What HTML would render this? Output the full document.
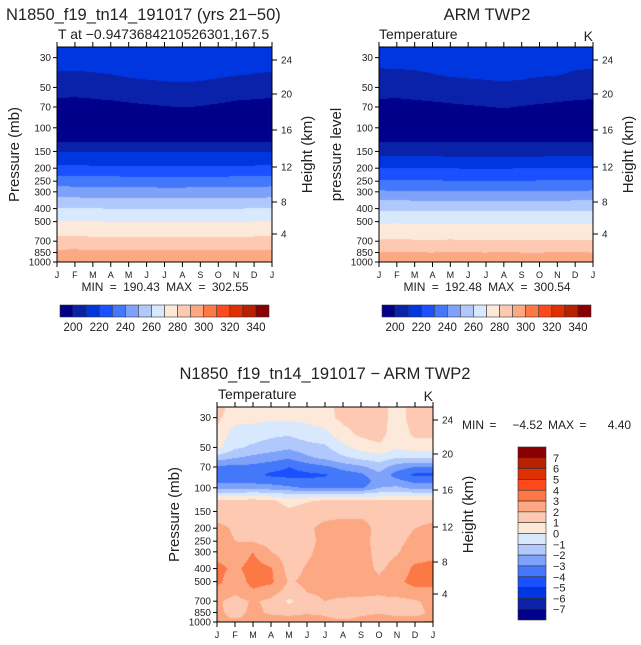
<!DOCTYPE html>
<html><head><meta charset="utf-8">
<style>
body{margin:0;background:#fff;width:641px;height:645px;overflow:hidden;position:relative;font-family:"Liberation Sans",sans-serif}
canvas{position:absolute}
svg{position:absolute;left:0;top:0}
text{font-family:"Liberation Sans",sans-serif;fill:#222}
</style></head><body>
<canvas id="c1" width="215" height="215" style="left:57px;top:47px"></canvas>
<canvas id="c2" width="214" height="215" style="left:379px;top:47px"></canvas>
<canvas id="c3" width="216" height="215" style="left:217px;top:407px"></canvas>
<svg id="s" width="641" height="645"></svg>
<script>
const months=['J','F','M','A','M','J','J','A','S','O','N','D','J'];
const pTicks=[30,50,70,100,150,200,250,300,400,500,700,850,1000];
const hTicks=[24,20,16,12,8,4];
const hTickOffsets=[13,47,83,120,155,187];
const palette=['#00008a','#0a22aa','#0036e0','#1a50ff','#4478fa','#7ea2fa','#b0c8fc','#d8e8fd','#fde9d9','#fdc9b2','#fca882','#fc7844','#fc4a1c','#e03000','#b82000','#8a0000'];
const tempLevels=[200,210,220,230,240,250,260,270,280,290,300,310,320,330,340];
const diffLevels=[-7,-6,-5,-4,-3,-2,-1,0,1,2,3,4,5,6,7];
const tempTickLabels=[200,220,240,260,280,300,320,340];
const diffTickLabels=[7,6,5,4,3,2,1,0,-1,-2,-3,-4,-5,-6,-7];

const modelP=[25,30,40,50,60,70,85,100,125,150,175,200,250,300,400,500,600,700,850,925,1000];
const modelT=[
[216,216,216,216,216,216,216,216,216,216,216,216,216],
[213.5,214,213.5,213,212.5,212.5,212.5,212.5,212.5,213,213,213.5,213.5],
[209.3,208.8,209.5,210,210.8,211.3,211.6,211.8,211.6,211,210.4,209.8,209.3],
[205.5,205,205.8,206.3,207.5,208,208.6,208.8,208.5,207.5,206.5,206,205.5],
[200,199.6,200.3,201,202,202.8,203.5,203.8,203.3,202.2,201,200.5,200],
[196.5,196.3,196.6,197,198,198.8,199.6,200.2,199.6,198.6,197.5,197,196.5],
[193,193,193,193,193.5,194,194.5,195,194.5,194,193.5,193,193],
[191,191,191,191,191,191.5,191.5,191.5,191.5,191,191,191,191],
[199,199,199,199,199,199,199,199,199,199,199,199,199],
[209.8,209.8,209.6,209.6,209.4,209.4,209.4,209.4,209.4,209.4,209.6,209.8,209.8],
[216.3,216.3,216.1,216,215.8,215.7,215.6,215.6,215.7,215.8,216,216.2,216.3],
[222.3,222.2,222,221.8,221.6,221.4,221.4,221.4,221.5,221.6,221.8,222,222.3],
[235.3,235.2,235,234.8,234.6,234.4,234.3,234.4,234.5,234.5,234.8,235,235.3],
[244.8,244.8,244.6,244.4,244.2,244,243.8,243.8,244,244.1,244.4,244.6,244.8],
[260.3,260.3,260.2,260,259.8,259.6,259.6,259.6,259.7,259.8,260,260.2,260.3],
[270.2,270.4,270.2,270,269.9,269.8,269.7,269.8,269.8,269.9,270,270.1,270.2],
[277.2,277.2,277.1,277,276.9,276.9,276.8,276.8,276.9,277,277,277.1,277.2],
[283.2,283.3,283.1,283,283,282.9,282.9,282.9,283,283,283.1,283.2,283.2],
[292.4,292.5,292.3,292.2,292.2,292.1,292.1,292.1,292.2,292.2,292.3,292.4,292.4],
[296.5,296.5,296.4,296.3,296.3,296.2,296.2,296.2,296.3,296.3,296.4,296.5,296.5],
[300.4,300.2,300,299.8,299.8,299.8,299.8,299.9,299.9,300,300.1,300.3,300.4]];

const obsP=[25,30,40,50,60,70,85,100,125,150,175,200,250,300,400,500,600,700,850,925,1000];
const obsT=[
[215.5,215.5,215.5,215.5,215.5,215.5,215.5,215.5,215.5,215.5,215.5,215.5,215.5],
[212.5,212.4,212.6,212.8,213,213.2,213.4,213.5,213.3,213,212.8,212.6,212.5],
[208.6,208.8,209.2,209.8,210.8,211.2,211.6,211.9,211.5,210.8,210.4,209.2,208.6],
[204.4,204.6,205,205.6,206.6,207.3,207.8,208.4,207.8,206.8,206,205,204.4],
[200.3,200,200.6,201.2,202,202.8,203.6,204.3,203.4,202.4,201.6,200.8,200.3],
[197.3,197.2,197.6,198,198.6,199.2,199.8,200.5,199.6,198.8,198,197.6,197.3],
[194,194,194,194.3,194.6,195,195.5,196,195.5,195,194.6,194.3,194],
[192.8,192.8,192.8,192.8,193,193,193.2,193.3,193.2,193,193,192.8,192.8],
[199.3,199.3,199.3,199.3,199.3,199.3,199.3,199.3,199.3,199.3,199.3,199.3,199.3],
[207.3,207.3,207.2,207.2,207,207,207,207,207,207.1,207.2,207.3,207.3],
[212.6,212.6,212.4,212.3,212.2,212,211.9,212,212.1,212.2,212.3,212.5,212.6],
[220.3,220.2,220.1,220,219.8,219.7,219.6,219.7,219.8,219.9,220,220.2,220.3],
[231.2,231,230.9,230.7,230.5,230.4,230.3,230.4,230.5,230.6,230.8,231,231.2],
[241.3,241.2,241,240.8,240.6,240.5,240.4,240.5,240.6,240.7,240.9,241.1,241.3],
[258.5,258.5,258.3,258.2,258,257.8,257.8,257.8,257.9,258,258.2,258.4,258.5],
[268.5,268.6,268.4,268.3,268.2,268.1,268,268.1,268.1,268.2,268.3,268.4,268.5],
[276.5,276.6,276.4,276.3,276.3,276.2,276.2,276.2,276.3,276.3,276.4,276.5,276.5],
[280.8,281,280.8,280.7,280.9,280.7,280.6,280.7,280.6,280.7,280.8,280.8,280.8],
[290,290.3,290.1,290,290.3,290.1,290,290.2,290,290,290.1,290.1,290],
[293.6,293.8,293.7,293.6,293.8,293.6,293.6,293.7,293.6,293.6,293.7,293.7,293.6],
[297.2,297.4,297.3,297.2,297.4,297.2,297.2,297.3,297.2,297.2,297.3,297.3,297.2]];

const diffP=[25,30,40,50,60,70,80,90,100,110,125,150,200,250,300,400,500,600,700,850,925,1000];
const diffV=[
[1.5,0.5,0.5,0.5,0.5,0.5,0.5,1.5,1.5,1.5,0.5,1.5,1.5],
[1.2,0.4,0.3,0.2,0.2,0.3,0.6,1.3,1.5,1.5,0.5,1.5,1.5],
[0.8,-0.5,-0.5,-0.8,-0.9,-0.5,-0.3,0.6,1.2,1.4,0.4,1.2,1.2],
[0.3,-0.8,-1.2,-1.5,-1.8,-1.4,-1.2,-0.3,0.4,0.8,0.2,0.5,0.5],
[-1.5,-2,-2.3,-2.6,-2.9,-2.2,-1.8,-1.2,-0.8,-0.5,-1,-1,-1],
[-3.2,-3.3,-3.3,-3.6,-4,-3.6,-3.2,-2.6,-2.2,-1.5,-2.5,-3,-3],
[-3.7,-3.7,-3.7,-4.2,-4.3,-4.2,-4.1,-3.6,-3.2,-2.2,-3.5,-4.2,-4.2],
[-3.2,-3.2,-3.3,-3.4,-3.6,-3.8,-3.7,-3.6,-3.7,-2.5,-2.6,-3.2,-3.2],
[-2.3,-2.4,-2.2,-2.5,-2.8,-3.1,-3.2,-3.2,-3.2,-2,-1.8,-2.4,-2.4],
[-0.8,-0.9,-0.7,-0.9,-1.1,-1.1,-1.2,-1.2,-1.1,-0.8,-0.6,-0.8,-0.8],
[1.2,1.3,1.4,1.2,0.6,0.9,1.2,1.2,1.2,1.1,1.2,1.2,1.2],
[1.6,1.7,1.8,1.6,1.2,1.5,1.6,1.7,1.7,1.6,1.6,1.6,1.6],
[2.2,1.9,1.8,1.6,1.6,1.8,2.3,2.4,2.4,1.7,1.7,2,2.2],
[2.3,2,1.9,1.6,1.5,1.7,2.3,2.4,2.4,1.6,1.8,2.2,2.3],
[2.6,2.3,3,2,1.5,1.8,2.4,2.5,2.5,1.6,1.9,2.5,2.7],
[3.3,2.8,3.4,3.1,1.6,2.1,2.4,2.5,2.5,1.8,2.4,3.2,3.3],
[3.3,2.3,3.4,3.2,1.9,2.2,2.4,2.5,2.7,2.2,2.8,3.3,3.4],
[2.6,2.2,2.8,2.4,1.5,2,2.2,2.3,2.2,2.1,2.5,2.7,2.6],
[2.2,1.6,2.1,1.8,0.8,1.6,2,1.8,1.8,1.8,1.6,1.9,2.3],
[2.3,1.5,2.3,1.8,1.6,1.8,1.6,1.8,1.5,1.9,1.5,1.6,2.3],
[2.4,1.8,2.4,2.3,2.2,2.4,2.2,1.4,2.2,2.4,2.2,2.1,2.4],
[3.2,2.6,3.1,2.8,2.7,2.6,2.8,2.8,2.8,2.7,2.8,2.9,3.3]];

const PT=25,PB=1000;
function yOfP(p,top,h){return top+(Math.log10(p)-Math.log10(PT))/(Math.log10(PB)-Math.log10(PT))*h;}
function pOfFrac(f){return Math.pow(10,Math.log10(PT)+f*(Math.log10(PB)-Math.log10(PT)));}
function hex(c){return [parseInt(c.slice(1,3),16),parseInt(c.slice(3,5),16),parseInt(c.slice(5,7),16)];}
const rgb=palette.map(hex);
function idx(v,lv){let i=0;while(i<lv.length&&v>=lv[i])i++;return i;}
function drawField(id,P,G,lv){
  const cv=document.getElementById(id),ctx=cv.getContext('2d'),W=cv.width,H=cv.height;
  const im=ctx.createImageData(W,H);const lp=P.map(Math.log10);
  for(let y=0;y<H;y++){
    const L=Math.log10(pOfFrac((y+0.5)/H));
    let k=0;while(k<lp.length-2&&L>lp[k+1])k++;
    let t=(L-lp[k])/(lp[k+1]-lp[k]);t=Math.max(0,Math.min(1,t));
    for(let x=0;x<W;x++){
      const m=(x+0.5)/W*12;let j=Math.min(11,Math.floor(m));const u=m-j;
      const a=G[k][j]*(1-u)+G[k][j+1]*u,b=G[k+1][j]*(1-u)+G[k+1][j+1]*u;
      const v=a*(1-t)+b*t;const c=rgb[idx(v,lv)];const o=(y*W+x)*4;
      im.data[o]=c[0];im.data[o+1]=c[1];im.data[o+2]=c[2];im.data[o+3]=255;
    }
  }
  ctx.putImageData(im,0,0);
}
drawField('c1',modelP,modelT,tempLevels);
drawField('c2',obsP,obsT,tempLevels);
drawField('c3',diffP,diffV,diffLevels);

const S=document.getElementById('s'),NS='http://www.w3.org/2000/svg';
function el(tag,at,txt){const e=document.createElementNS(NS,tag);for(const k in at)e.setAttribute(k,at[k]);if(txt!==undefined)e.textContent=txt;S.appendChild(e);return e;}
function txt(x,y,s,size,anchor,name,rot){const e=el('text',{x:x,y:y,'font-size':size,'text-anchor':anchor||'start'},s);if(rot)e.setAttribute('transform','rotate(-90 '+x+' '+y+')');

return e;}
function axes(x0,y0,w,h,ylab,pref){
  const r=el('rect',{x:x0,y:y0,width:w,height:h,fill:'none',stroke:'#000','stroke-width':1});
  
  
  months.forEach((m,i)=>{const x=x0+i*w/12;
    el('line',{x1:x,y1:y0,x2:x,y2:y0-5,stroke:'#000'});
    el('line',{x1:x,y1:y0+h,x2:x,y2:y0+h+5,stroke:'#000'});
    txt(x,y0+h+16,m,9,'middle',pref+'-month-label');});
  pTicks.forEach(p=>{const y=yOfP(p,y0,h);
    el('line',{x1:x0-4,y1:y,x2:x0,y2:y,stroke:'#000'});
    txt(x0-6,y+3.5,String(p),10,'end',pref+'-pressure-tick');});
  hTicks.forEach((v,i)=>{const y=y0+hTickOffsets[i];
    el('line',{x1:x0+w,y1:y,x2:x0+w+5,y2:y,stroke:'#000'});
    txt(x0+w+9,y+3.5,String(v),10,'start',pref+'-height-tick');});
  txt(x0-38,y0+h/2,ylab,15,'middle',pref+'-y-axis-title',true);
  txt(x0+w+40,y0+h/2,'Height (km)',15,'middle',pref+'-height-axis-title',true);
}
axes(57,47,215,215,'Pressure (mb)','model');
axes(379,47,214,215,'pressure level','obs');
axes(217,407,216,215,'Pressure (mb)','diff');

txt(6,20,'N1850_f19_tn14_191017 (yrs 21−50)',16.5,'start','model-title');
txt(58,39,'T at −0.9473684210526301,167.5',14,'start','model-subtitle');
txt(487,20,'ARM TWP2',16.5,'middle','obs-title');
txt(379,39,'Temperature',14,'start','obs-variable-label');
txt(593,41,'K',14,'end','obs-units');
txt(325,379,'N1850_f19_tn14_191017 − ARM TWP2',16.5,'middle','diff-title');
txt(218,399,'Temperature',14,'start','diff-variable-label');
txt(433,401,'K',14,'end','diff-units');
const m1=txt(165,291,'MIN = 190.43 MAX = 302.55',12,'middle','model-min-max');
m1.setAttribute('word-spacing','3');
const m2=txt(487,291,'MIN = 192.48 MAX = 300.54',12,'middle','obs-min-max');
m2.setAttribute('word-spacing','3');
const m3=txt(462,429,'MIN =   −4.52 MAX =    4.40',12,'start','diff-min-max');
m3.setAttribute('xml:space','preserve');
m3.setAttribute('style','white-space:pre');
m3.setAttribute('word-spacing','2');

function hbar(x0,y0,w,h,pref){
  const bw=w/palette.length;
  palette.forEach((c,i)=>{const r=el('rect',{x:x0+i*bw,y:y0,width:bw,height:h,fill:c,stroke:'#333','stroke-width':0.6});
    
    });
  tempTickLabels.forEach(v=>{const i=tempLevels.indexOf(v)+1;txt(x0+i*bw,y0+h+14,String(v),11.5,'middle',pref+'-colorbar-label');});
}
hbar(60,305,209,12,'model');
hbar(382,305,209,12,'obs');
const vbw=173/palette.length;
palette.slice().reverse().forEach((c,i)=>{const r=el('rect',{x:518,y:447+i*vbw,width:28,height:vbw,fill:c,stroke:'#333','stroke-width':0.6});
  
  });
diffTickLabels.forEach((v,i)=>{txt(553,447+(i+1)*vbw+4,String(v).replace('-','−'),11,'start','diff-colorbar-label');});
</script>
</body></html>
